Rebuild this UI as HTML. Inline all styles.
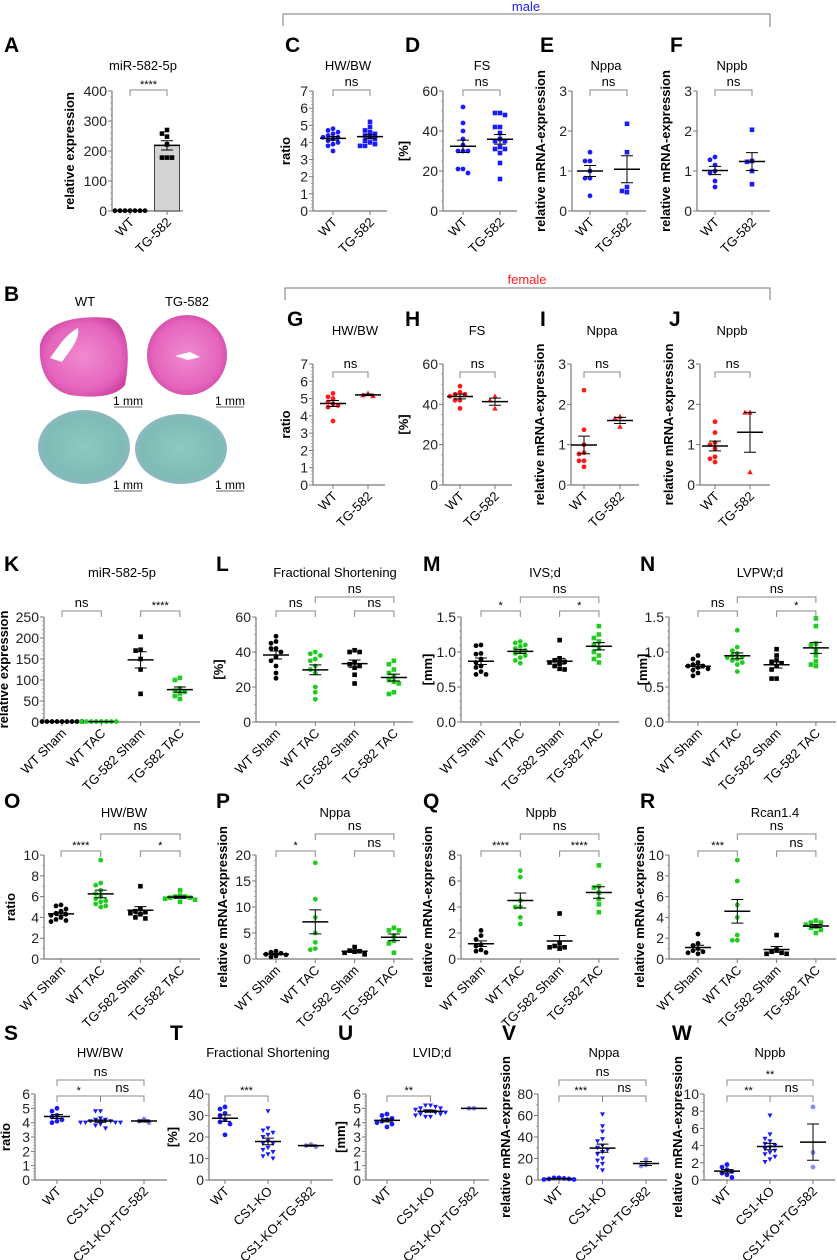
<!DOCTYPE html>
<html><head><meta charset="utf-8">
<style>
html,body{margin:0;padding:0;background:#fff;}
svg{display:block;font-family:"Liberation Sans",Arial,sans-serif;}
</style></head>
<body>
<svg id="fig" width="837" height="1260" viewBox="0 0 837 1260" xmlns="http://www.w3.org/2000/svg">
<defs>
<radialGradient id="he" cx="50%" cy="50%" r="60%"><stop offset="0" stop-color="#f08ad0"/><stop offset="0.7" stop-color="#e564bd"/><stop offset="1" stop-color="#c9399b"/></radialGradient>
<radialGradient id="tc" cx="50%" cy="50%" r="60%"><stop offset="0" stop-color="#8cc9c0"/><stop offset="0.7" stop-color="#7fbcb6"/><stop offset="1" stop-color="#9cb4cf"/></radialGradient>
</defs>
<g>
<text x="4" y="301" font-size="21" font-weight="bold">B</text>
<text x="85" y="306" font-size="13" text-anchor="middle">WT</text>
<text x="187" y="306" font-size="13" text-anchor="middle">TG-582</text>
<path d="M40,345 C45,320 80,315 110,318 C130,325 130,360 125,385 C115,398 90,398 70,395 C50,390 38,372 40,345Z" fill="url(#he)"/>
<path d="M50,358 C60,345 65,335 78,328 C80,340 70,350 62,362Z" fill="#fff"/>
<ellipse cx="187" cy="355" rx="40" ry="40" fill="url(#he)"/>
<path d="M175,356 L190,352 L200,357 L188,360Z" fill="#fff"/>
<ellipse cx="84" cy="447" rx="46" ry="37" fill="url(#tc)"/>
<ellipse cx="181" cy="449" rx="46" ry="35" fill="url(#tc)"/>
<text x="128" y="405" font-size="12" text-anchor="middle">1 mm</text>
<text x="230" y="405" font-size="12" text-anchor="middle">1 mm</text>
<text x="128" y="489" font-size="12" text-anchor="middle">1 mm</text>
<text x="230" y="489" font-size="12" text-anchor="middle">1 mm</text>
<line x1="114" y1="407" x2="142" y2="407" stroke="#666" stroke-width="1"/>
<line x1="216" y1="407" x2="244" y2="407" stroke="#666" stroke-width="1"/>
<line x1="114" y1="491" x2="142" y2="491" stroke="#666" stroke-width="1"/>
<line x1="216" y1="491" x2="244" y2="491" stroke="#666" stroke-width="1"/>
</g>
<g>
<path d="M283,26 L283,14 L770,14 L770,27" fill="none" stroke="#777" stroke-width="1"/>
<text x="526" y="11" font-size="13" fill="#2020ff" text-anchor="middle">male</text>
</g>
<g>
<path d="M285,300 L285,288 L770,288 L770,300" fill="none" stroke="#777" stroke-width="1"/>
<text x="527" y="284" font-size="13" fill="#ff2020" text-anchor="middle">female</text>
</g>
</svg>
<script>
// ---------- data ----------
const catsMF=["WT","TG-582"];
const catsTAC=["WT Sham","WT TAC","TG-582 Sham","TG-582 TAC"];
const catsCS=["WT","CS1-KO","CS1-KO+TG-582"];
const A_WT=[1,1,1,1,1,1,1];
const A_TG=[270,258,248,222,178,178,178];
const C_WT=[4.8,4.7,4.6,4.5,4.4,4.3,4.3,4.2,4.1,4.0,3.9,3.8,3.5];
const C_TG=[5.2,4.9,4.7,4.6,4.5,4.4,4.3,4.2,4.1,4.0,3.9,3.8,3.8];
const D_WT=[52,44,40,36,33,30,30,30,21,21,19];
const D_TG=[49,49,48,42,42,39,36,35,35,32,31,31,29,24,16];
const E_WT=[1.47,1.25,1.25,1.0,0.82,0.82,0.38];
const E_TG=[2.18,1.47,0.6,0.5,0.47];
const F_WT=[1.35,1.28,1.15,1.0,0.95,0.75,0.6];
const F_TG=[2.03,1.25,1.23,1.0,0.67];
const G_WT=[5.3,5.1,5.0,4.8,4.7,4.6,4.5,3.7];
const G_TG=[5.3,5.2,5.15];
const H_WT=[49,46,45,45,44,42,42,38];
const H_TG=[44,42,38];
const I_WT=[2.35,1.37,1.0,0.8,0.77,0.6,0.6,0.45];
const I_TG=[1.7,1.65,1.45];
const J_WT=[1.57,1.3,1.05,1.0,0.9,0.7,0.65,0.57];
const J_TG=[1.8,1.8,0.32];
const K_WS=[1,1,1,1,1,1,1,1,1];
const K_WT=[1,1,1,1,1,1,1,1];
const K_TS=[203,172,170,150,125,67];
const K_TT=[105,100,80,75,72,68,62,55];
const L_WS=[49,46,45,42,42,40,37,35,32,28,25];
const L_WT=[40,39,38,36,35,32,30,28,20,17,13];
const L_TS=[41,40,40,34,33,32,31,27,22];
const L_TT=[35,33,30,28,26,24,23,22,17,16];
const M_WS=[1.1,1.09,0.98,0.97,0.9,0.85,0.8,0.78,0.72,0.68,0.68];
const M_WT=[1.15,1.13,1.1,1.08,1.05,1.02,1.0,0.98,0.95,0.92,0.88,0.84];
const M_TS=[1.17,0.91,0.88,0.86,0.85,0.83,0.8,0.76,0.75];
const M_TT=[1.37,1.25,1.2,1.15,1.1,1.05,1.0,0.95,0.9,0.85];
const N_WS=[0.95,0.9,0.85,0.82,0.8,0.8,0.78,0.76,0.74,0.7,0.66];
const N_WT=[1.31,1.07,1.02,0.98,0.95,0.93,0.92,0.9,0.88,0.85,0.82,0.72];
const N_TS=[1.04,0.95,0.88,0.86,0.84,0.8,0.75,0.62,0.62];
const N_TT=[1.48,1.37,1.12,1.1,1.02,0.95,0.87,0.82,0.8];
const O_WS=[5.2,5.1,4.8,4.6,4.4,4.3,4.2,4.0,3.8,3.7,3.6];
const O_WT=[9.5,7.3,7.1,6.6,6.3,6.0,5.8,5.6,5.5,5.3,5.1,5.0];
const O_TS=[7.0,4.8,4.6,4.5,4.4,4.3,4.0,3.9];
const O_TT=[6.6,6.1,6.0,6.0,5.9,5.9,5.8,5.7,5.5];
const P_WS=[1.5,1.3,1.1,0.9,0.8,0.6,0.4];
const P_WT=[18.5,11.5,8,5,3.2,2,1.8];
const P_TS=[2.3,1.6,1.5,1.4,1.2,0.9];
const P_TT=[6,5.5,5.5,4.5,3.5,3,1.2];
const Q_WS=[2.2,1.8,1.5,1.1,1.0,0.7,0.6,0.5];
const Q_WT=[6.8,6.3,4.5,4.0,4.0,3.2,2.7];
const Q_TS=[3.5,1.2,1.0,0.9,0.9,0.8];
const Q_TT=[7.2,5.6,5.5,5.1,4.6,4.2,3.6];
const R_WS=[2.4,1.5,1.3,1.0,0.8,0.7,0.6,0.5];
const R_WT=[9.5,7.5,5.2,4.0,2.3,1.8,1.8];
const R_TS=[2.3,0.9,0.7,0.6,0.5,0.5];
const R_TT=[3.7,3.5,3.5,3.3,3.1,3.0,2.8,2.5];
const S_WT=[5.0,4.8,4.5,4.4,4.2,4.1,4.0];
const S_KO=[4.8,4.8,4.3,4.2,4.2,4.1,4.1,4.0,4.0,4.0,4.0,3.9,3.9,3.8,3.6];
const S_KT=[4.25,4.1,4.0];
const T_WT=[34,33,31,30,28,27,26,21];
const T_KO=[32,24,23,22,21,20,18,17,17,15,14,13,12,11,10];
const T_KT=[16.5,16,15.5];
const U_WT=[4.6,4.5,4.3,4.2,4.1,4.0,3.9,3.7];
const U_KO=[5.2,5.2,5.1,5.0,5.0,4.9,4.8,4.8,4.7,4.7,4.6,4.6,4.5,4.4,4.4];
const U_KT=[5.0,5.0];
const V_WT=[2,2,1.5,1,1,0.5,0.5];
const V_KO=[61,50,45,38,36,32,30,28,26,24,20,18,15,12,9];
const V_KT=[19,14,13];
const W_WT=[1.8,1.5,1.2,1.0,0.8,0.6,0.3];
const W_KO=[7.5,5.3,4.8,4.5,4.2,4.0,3.8,3.6,3.4,3.2,3.0,2.7,2.4,2.1];
const W_KT=[8.5,3.2,1.5];
const ticks3=[0,1,2,3];
const ticks7=[0,1,2,3,4,5,6,7];
const ticks60=[0,20,40,60];
const ticks400=[0,100,200,300,400];
const ticks250=[0,50,100,150,200,250];
const ticksMM=[0,0.5,1.0,1.5];
const ticks10=[0,2,4,6,8,10];
const ticks20=[0,5,10,15,20];
const ticks8=[0,2,4,6,8];
const ticks6=[0,1,2,3,4,5,6];
const ticks40=[0,10,20,30,40];
const ticks80=[0,20,40,60,80];

// ---------- layout ----------
const BL='#1a1aff',RD='#ff1a1a',GR='#1fcc1f',BK='#000',LB='#8a8aff';
const R1={yt:91,yb:211,ly:52,ty:70},R2={yt:364,yb:485,ly:326,ty:335};
const R3={yt:617,yb:722,ly:571,ty:577},R4={yt:855,yb:959,ly:808,ty:817},R5={yt:1094,yb:1180,ly:1040,ty:1057};
const panels=[
{L:'A',lx:4,tx:143,r:R1,ax:112,xe:183,c0:130,dx:37,min:0,max:400,ticks:ticks400,minor:4,yl:'relative expression',yo:38,cats:catsMF,data:[A_WT,A_TG],col:[BK,BK],mk:['c','s'],bar:true,br:[[0,1,90,'****']]},
{L:'C',lx:285,tx:348,title:'HW/BW',r:R1,ax:313,xe:387,c0:333,dx:37,min:0,max:7,ticks:ticks7,minor:4,yl:'ratio',yo:23,cats:catsMF,data:[C_WT,C_TG],col:[BL,BL],mk:['c','s'],br:[[0,1,90,'ns']]},
{L:'D',lx:405,tx:482,title:'FS',r:R1,ax:443,xe:517,c0:463,dx:37,min:0,max:60,ticks:ticks60,minor:3,yl:'[%]',yo:35,cats:catsMF,data:[D_WT,D_TG],col:[BL,BL],mk:['c','s'],br:[[0,1,90,'ns']]},
{L:'E',lx:540,tx:606,title:'Nppa',r:R1,ax:572,xe:646,c0:590,dx:37,min:0,max:3,ticks:ticks3,minor:0,yl:'relative mRNA-expression',yo:27,cats:catsMF,data:[E_WT,E_TG],col:[BL,BL],mk:['c','s'],br:[[0,1,90,'ns']]},
{L:'F',lx:670,tx:732,title:'Nppb',r:R1,ax:697,xe:770,c0:715,dx:37,min:0,max:3,ticks:ticks3,minor:0,yl:'relative mRNA-expression',yo:27,cats:catsMF,data:[F_WT,F_TG],col:[BL,BL],mk:['c','s'],br:[[0,1,90,'ns']]},
{L:'G',lx:287,tx:355,title:'HW/BW',r:R2,ax:313,xe:385,c0:333,dx:35,min:0,max:7,ticks:ticks7,minor:4,yl:'ratio',yo:23,cats:catsMF,data:[G_WT,G_TG],col:[RD,RD],mk:['c','t'],br:[[0,1,372,'ns']]},
{L:'H',lx:405,tx:477,title:'FS',r:R2,ax:443,xe:512,c0:460,dx:35,min:0,max:60,ticks:ticks60,minor:3,yl:'[%]',yo:35,cats:catsMF,data:[H_WT,H_TG],col:[RD,RD],mk:['c','t'],br:[[0,1,372,'ns']]},
{L:'I',lx:540,tx:602,title:'Nppa',r:R2,ax:571,xe:639,c0:584,dx:36,min:0,max:3,ticks:ticks3,minor:0,yl:'relative mRNA-expression',yo:27,cats:catsMF,data:[I_WT,I_TG],col:[RD,RD],mk:['c','t'],br:[[0,1,372,'ns']]},
{L:'J',lx:669,tx:732,title:'Nppb',r:R2,ax:700,xe:770,c0:715,dx:35,min:0,max:3,ticks:ticks3,minor:0,yl:'relative mRNA-expression',yo:27,cats:catsMF,data:[J_WT,J_TG],col:[RD,RD],mk:['c','t'],br:[[0,1,372,'ns']]},
{L:'K',lx:4,tx:122,title:'miR-582-5p',r:R3,ax:44,xe:200,c0:62,dx:39.3,min:0,max:250,ticks:ticks250,minor:4,yl:'relative expression',yo:36,cats:catsTAC,data:[K_WS,K_WT,K_TS,K_TT],col:[BK,GR,BK,GR],mk:['c','c','s','s'],br:[[0,1,611,'ns'],[2,3,611,'****']]},
{L:'L',lx:216,tx:335,title:'Fractional Shortening',r:R3,ax:256,xe:413,c0:276,dx:39.3,min:0,max:60,ticks:ticks60,minor:3,yl:'[%]',yo:33,cats:catsTAC,data:[L_WS,L_WT,L_TS,L_TT],col:[BK,GR,BK,GR],mk:['c','c','s','s'],br:[[0,1,611,'ns'],[1,3,597,'ns'],[2,3,611,'ns']]},
{L:'M',lx:423,tx:545,title:'IVS;d',r:R3,ax:461,xe:619,c0:481,dx:39.3,min:0,max:1.5,ticks:ticksMM,fmt:1,minor:4,yl:'[mm]',yo:29,cats:catsTAC,data:[M_WS,M_WT,M_TS,M_TT],col:[BK,GR,BK,GR],mk:['c','c','s','s'],br:[[0,1,611,'*'],[1,3,597,'ns'],[2,3,611,'*']]},
{L:'N',lx:640,tx:760,title:'LVPW;d',r:R3,ax:669,xe:836,c0:698,dx:39.3,min:0,max:1.5,ticks:ticksMM,fmt:1,minor:4,yl:'[mm]',yo:22,cats:catsTAC,data:[N_WS,N_WT,N_TS,N_TT],col:[BK,GR,BK,GR],mk:['c','c','s','s'],br:[[0,1,611,'ns'],[1,3,597,'ns'],[2,3,611,'*']]},
{L:'O',lx:4,tx:124,title:'HW/BW',r:R4,ax:44,xe:200,c0:61,dx:39.7,min:0,max:10,ticks:ticks10,minor:1,yl:'ratio',yo:29,cats:catsTAC,data:[O_WS,O_WT,O_TS,O_TT],col:[BK,GR,BK,GR],mk:['c','c','s','s'],br:[[0,1,851,'****'],[1,3,834,'ns'],[2,3,851,'*']]},
{L:'P',lx:216,tx:335,title:'Nppa',r:R4,ax:256,xe:413,c0:276,dx:39.3,min:0,max:20,ticks:ticks20,minor:4,yl:'relative mRNA-expression',yo:29,cats:catsTAC,data:[P_WS,P_WT,P_TS,P_TT],col:[BK,GR,BK,GR],mk:['c','c','s','s'],br:[[0,1,851,'*'],[1,3,834,'ns'],[2,3,851,'ns']]},
{L:'Q',lx:423,tx:541,title:'Nppb',r:R4,ax:461,xe:619,c0:481,dx:39.3,min:0,max:8,ticks:ticks8,minor:1,yl:'relative mRNA-expression',yo:29,cats:catsTAC,data:[Q_WS,Q_WT,Q_TS,Q_TT],col:[BK,GR,BK,GR],mk:['c','c','s','s'],br:[[0,1,851,'****'],[1,3,834,'ns'],[2,3,851,'****']]},
{L:'R',lx:640,tx:775,title:'Rcan1.4',r:R4,ax:669,xe:836,c0:698,dx:39.3,min:0,max:10,ticks:ticks10,minor:1,yl:'relative mRNA-expression',yo:25,cats:catsTAC,data:[R_WS,R_WT,R_TS,R_TT],col:[BK,GR,BK,GR],mk:['c','c','s','s'],br:[[0,1,851,'***'],[1,3,834,'ns'],[2,3,851,'ns']]},
{L:'S',lx:4,tx:100,title:'HW/BW',r:R5,ax:35,xe:167,c0:57,dx:43.5,min:0,max:6,ticks:ticks6,minor:4,yl:'ratio',yo:25,cats:catsCS,data:[S_WT,S_KO,S_KT],col:[BL,BL,LB],mk:['c','v','c'],br:[[0,1,1096,'*'],[1,2,1096,'ns'],[0,2,1080,'ns']]},
{L:'T',lx:170,tx:268,title:'Fractional Shortening',r:R5,ax:209,xe:333,c0:225,dx:43,min:0,max:40,ticks:ticks40,minor:1,yl:'[%]',yo:32,cats:catsCS,data:[T_WT,T_KO,T_KT],col:[BL,BL,LB],mk:['c','v','c'],br:[[0,1,1096,'***']]},
{L:'U',lx:338,tx:432,title:'LVID;d',r:R5,ax:366,xe:489,c0:387,dx:43.5,min:0,max:6,ticks:ticks6,minor:4,yl:'[mm]',yo:21,cats:catsCS,data:[U_WT,U_KO,U_KT],col:[BL,BL,LB],mk:['c','v','c'],br:[[0,1,1096,'**']]},
{L:'V',lx:502,tx:604,title:'Nppa',r:R5,ax:538,xe:667,c0:559,dx:43.5,min:0,max:80,ticks:ticks80,minor:1,yl:'relative mRNA-expression',yo:28,cats:catsCS,data:[V_WT,V_KO,V_KT],col:[BL,BL,LB],mk:['c','v','c'],br:[[0,1,1096,'***'],[1,2,1096,'ns'],[0,2,1080,'ns']]},
{L:'W',lx:672,tx:770,title:'Nppb',r:R5,ax:704,xe:835,c0:727,dx:43,min:0,max:10,ticks:ticks10,minor:1,yl:'relative mRNA-expression',yo:22,cats:catsCS,data:[W_WT,W_KO,W_KT],col:[BL,BL,LB],mk:['c','v','c'],br:[[0,1,1096,'**'],[1,2,1096,'ns'],[0,2,1080,'**']]}
];
panels[0].title='miR-582-5p';

const NS='http://www.w3.org/2000/svg';
const svg=document.getElementById('fig');
function mk(tag,attrs,parent){const e=document.createElementNS(NS,tag);for(const k in attrs)e.setAttribute(k,attrs[k]);parent.appendChild(e);return e;}

function drawPanel(p){
  const key=p.L.toLowerCase();
  const g=mk('g',{},svg);
  
  
  const yt=p.r.yt,yb=p.r.yb;
  const yS=v=>yb-(v-p.min)/(p.max-p.min)*(yb-yt);
  const xS=i=>p.c0+i*p.dx;
  let t=mk('text',{x:p.lx,y:p.r.ly,'font-size':21,'font-weight':'bold'},g);t.textContent=p.L;
  
  
  t=mk('text',{x:p.tx,y:p.r.ty,'font-size':13,'text-anchor':'middle'},g);t.textContent=p.title;
  
  
  let a=mk('line',{x1:p.ax,y1:yt,x2:p.ax,y2:yb,stroke:'#777','stroke-width':1.2},g);
  
  
  a=mk('line',{x1:p.ax,y1:yb,x2:p.xe,y2:yb,stroke:'#777','stroke-width':1.2},g);
  
  
  p.ticks.forEach((v,k)=>{
    const y=yS(v);
    const tl=mk('line',{x1:p.ax-4,y1:y,x2:p.ax,y2:y,stroke:'#777'},g);
    
    
    const lb=mk('text',{x:p.ax-5,y:y+5,'font-size':14,'text-anchor':'end',fill:'#222'},g);
    lb.textContent=p.fmt?v.toFixed(p.fmt):String(v);
    
    
    if(k<p.ticks.length-1&&p.minor>0){
      const nv=p.ticks[k+1];
      for(let m=1;m<=p.minor;m++){
        const yy=yS(v+(nv-v)*m/(p.minor+1));
        const ml=mk('line',{x1:p.ax-2,y1:yy,x2:p.ax,y2:yy,stroke:'#999','stroke-width':0.8},g);
        
        
      }
    }
  });
  const ycen=(yt+yb)/2;
  const yl=mk('text',{x:p.ax-p.yo,y:ycen,'font-size':13,'font-weight':'bold','text-anchor':'middle',transform:`rotate(-90 ${p.ax-p.yo} ${ycen})`},g);
  yl.textContent=p.yl;
  
  
  p.cats.forEach((c,i)=>{
    const x=xS(i);
    const ct=mk('line',{x1:x,y1:yb,x2:x,y2:yb+4,stroke:'#777'},g);
    
    
    const tx=x+5,ty=yb+12;
    const lb=mk('text',{x:tx,y:ty,'font-size':13,'text-anchor':'end',transform:`rotate(-45 ${tx} ${ty})`},g);
    lb.textContent=c;
    
    
  });
  p.data.forEach((vals,i)=>{
    const cx=xS(i),col=p.col[i];
    const n=vals.length,mean=vals.reduce((s,v)=>s+v,0)/n;
    const sd=Math.sqrt(vals.reduce((s,v)=>s+(v-mean)*(v-mean),0)/Math.max(1,n-1));
    const sem=sd/Math.sqrt(n);
    if(p.bar){
      const b=mk('rect',{x:cx-12.5,y:yS(mean),width:25,height:yb-yS(mean),fill:'#d4d4d4',stroke:'#444','stroke-width':1},g);
      
      
    }
    const placed=[];
    const sorted=vals.slice().sort((a,b)=>b-a);
    const offs=[0,-5,5,-10,10,-15,15,-20,20];
    sorted.forEach(v=>{
      const y=yS(v);let ox=0;
      for(const o of offs){if(!placed.some(q=>Math.hypot(q[0]-o,q[1]-y)<4.6)){ox=o;break;}}
      placed.push([ox,y]);
      const x=cx+ox;let m;
      if(p.mk[i]==='s')m=mk('rect',{x:x-2.3,y:y-2.3,width:4.6,height:4.6,fill:col},g);
      else if(p.mk[i]==='t')m=mk('path',{d:`M${x},${y-2.8}L${x+2.8},${y+2.2}L${x-2.8},${y+2.2}Z`,fill:col},g);
      else if(p.mk[i]==='v')m=mk('path',{d:`M${x-2.5},${y-2}L${x+2.5},${y-2}L${x},${y+2.5}Z`,fill:col},g);
      else m=mk('circle',{cx:x,cy:y,r:2.4,fill:col},g);
      
      
    });
    const ym=yS(mean),yh=yS(mean+sem),ylo=yS(mean-sem);
    const ml=mk('line',{x1:cx-13,y1:ym,x2:cx+13,y2:ym,stroke:'#000','stroke-width':1.5},g);
    
    
    const e=mk('path',{d:`M${cx},${yh}L${cx},${ylo}M${cx-6},${yh}L${cx+6},${yh}M${cx-6},${ylo}L${cx+6},${ylo}`,stroke:'#000','stroke-width':1,fill:'none'},g);
    
    
  });
  p.br.forEach(b=>{
    const x1=xS(b[0]),x2=xS(b[1]),y=b[2];
    const bp=mk('path',{d:`M${x1},${y+6}L${x1},${y}L${x2},${y}L${x2},${y+6}`,stroke:'#888','stroke-width':1,fill:'none'},g);
    
    
    const star=b[3]!=='ns';
    const st=mk('text',{x:(x1+x2)/2,y:star?y-2:y-4,'font-size':star?11:13,'text-anchor':'middle'},g);
    st.textContent=b[3];
    
    
  });
}
panels.forEach(drawPanel);
</script>
</body></html>
